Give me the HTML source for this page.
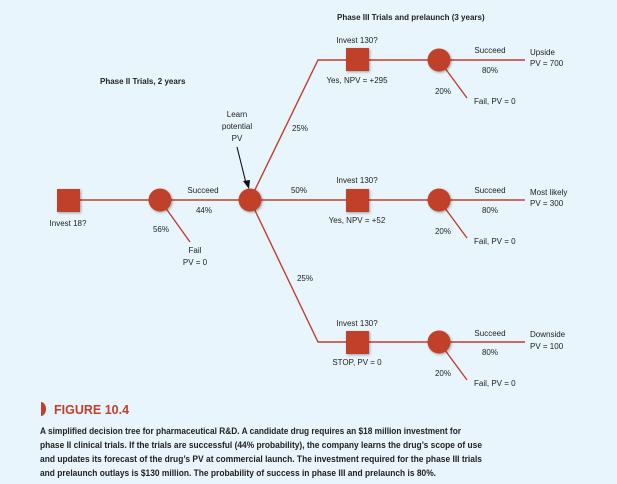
<!DOCTYPE html>
<html><head><meta charset="utf-8"><style>
html,body{margin:0;padding:0;background:#e8f5fd;}
svg{display:block;font-family:"Liberation Sans",sans-serif;}
.t{font-size:8px;fill:#222;}
.b{font-size:8px;fill:#222;font-weight:bold;}
</style></head><body>
<svg width="617" height="484" viewBox="0 0 617 484">
<defs><filter id="sh" x="-50%" y="-50%" width="200%" height="200%"><feDropShadow dx="1" dy="1" stdDeviation="1.2" flood-color="#000" flood-opacity="0.35"/></filter></defs>
<g stroke="#c0402c" stroke-width="1.4" fill="none">
<line x1="70" y1="200" x2="250" y2="200"/>
<line x1="250" y1="200" x2="525" y2="200"/>
<polyline points="250,200 318,60 525,60"/>
<polyline points="250,200 318,342 525,342"/>
<line x1="160" y1="200" x2="190" y2="242"/>
<line x1="439" y1="60" x2="467" y2="98"/>
<line x1="439" y1="200" x2="467" y2="238"/>
<line x1="439" y1="342" x2="467" y2="380"/>
</g>
<g fill="#c0402c" filter="url(#sh)">
<rect x="57" y="189" width="23" height="23"/>
<circle cx="160" cy="200" r="11.5"/>
<circle cx="250" cy="200" r="11.5"/>
<rect x="346" y="48" width="23" height="23"/>
<rect x="346" y="189" width="23" height="23"/>
<rect x="346" y="331" width="23" height="23"/>
<circle cx="439" cy="60" r="11.5"/>
<circle cx="439" cy="200" r="11.5"/>
<circle cx="439" cy="342" r="11.5"/>
</g>
<line x1="237" y1="147" x2="246" y2="183" stroke="#111" stroke-width="1.1"/>
<polygon points="243,181 249,189 250,180" fill="#111"/>
<text class="b" x="337" y="20">Phase III Trials and prelaunch (3 years)</text>
<text class="b" x="100" y="84">Phase II Trials, 2 years</text>
<g class="t" text-anchor="middle">
<text x="68" y="226" class="t">Invest 18?</text>
<text x="203" y="193" class="t">Succeed</text>
<text x="204" y="213" class="t">44%</text>
<text x="161" y="232" class="t">56%</text>
<text x="195" y="253" class="t">Fail</text>
<text x="195" y="265" class="t">PV = 0</text>
<text x="237" y="117" class="t">Learn</text>
<text x="237" y="129" class="t">potential</text>
<text x="237" y="141" class="t">PV</text>
<text x="300" y="131" class="t">25%</text>
<text x="299" y="193" class="t">50%</text>
<text x="305" y="281" class="t">25%</text>
<text x="357" y="43" class="t">Invest 130?</text>
<text x="357" y="83" class="t">Yes, NPV = +295</text>
<text x="357" y="183" class="t">Invest 130?</text>
<text x="357" y="223" class="t">Yes, NPV = +52</text>
<text x="357" y="326" class="t">Invest 130?</text>
<text x="357" y="365" class="t">STOP, PV = 0</text>
<text x="490" y="53" class="t">Succeed</text>
<text x="490" y="73" class="t">80%</text>
<text x="443" y="94" class="t">20%</text>
<text x="490" y="193" class="t">Succeed</text>
<text x="490" y="213" class="t">80%</text>
<text x="443" y="234" class="t">20%</text>
<text x="490" y="336" class="t">Succeed</text>
<text x="490" y="355" class="t">80%</text>
<text x="443" y="376" class="t">20%</text>
</g>
<g class="t">
<text x="474" y="104" class="t">Fail, PV = 0</text>
<text x="474" y="244" class="t">Fail, PV = 0</text>
<text x="474" y="386" class="t">Fail, PV = 0</text>
<text x="530" y="55" class="t">Upside</text>
<text x="530" y="66" class="t">PV = 700</text>
<text x="530" y="195" class="t">Most likely</text>
<text x="530" y="206" class="t">PV = 300</text>
<text x="530" y="337" class="t">Downside</text>
<text x="530" y="349" class="t">PV = 100</text>
</g>
<path d="M41,402 A5,7 0 0 1 41,416 Z" fill="#c0402c"/>
<text x="54" y="414" style="font-size:12.5px;font-weight:bold;fill:#c0402c">FIGURE 10.4</text>
<g style="font-size:9px;fill:#222;font-weight:bold">
<text x="40" y="434" textLength="421" lengthAdjust="spacingAndGlyphs">A simplified decision tree for pharmaceutical R&amp;D. A candidate drug requires an $18 million investment for</text>
<text x="40" y="448" textLength="442" lengthAdjust="spacingAndGlyphs">phase II clinical trials. If the trials are successful (44% probability), the company learns the drug’s scope of use</text>
<text x="40" y="462" textLength="442" lengthAdjust="spacingAndGlyphs">and updates its forecast of the drug’s PV at commercial launch. The investment required for the phase III trials</text>
<text x="40" y="476" textLength="396" lengthAdjust="spacingAndGlyphs">and prelaunch outlays is $130 million. The probability of success in phase III and prelaunch is 80%.</text>
</g>
</svg>
</body></html>
